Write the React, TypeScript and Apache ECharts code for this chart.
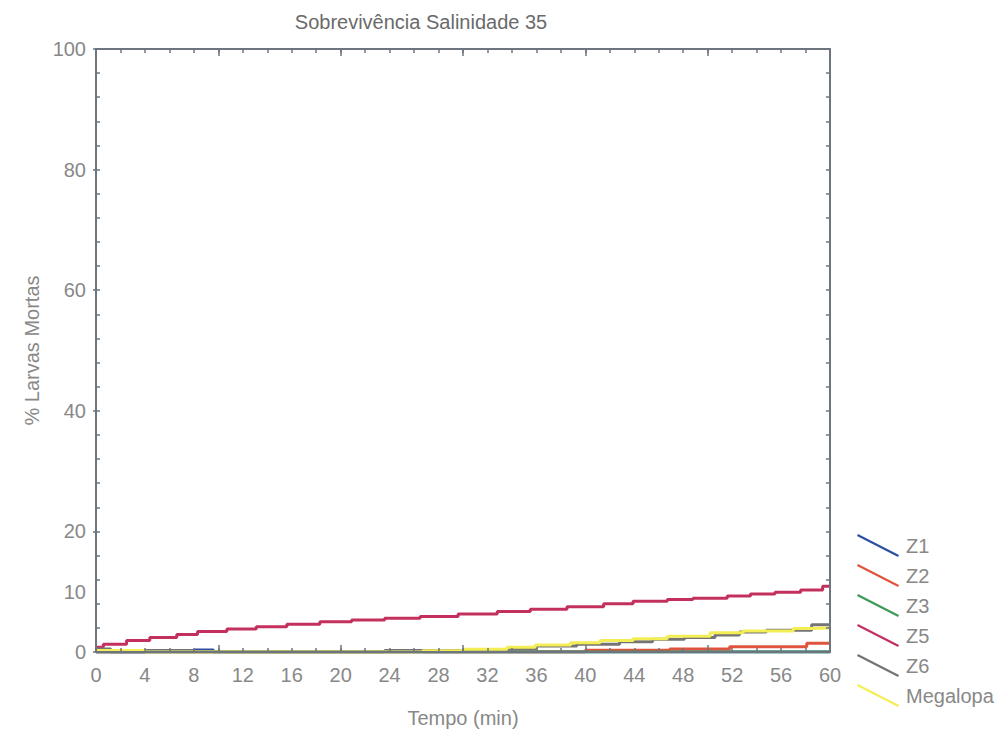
import React, { useEffect, useRef } from "react";
import * as echarts from "echarts";

const TITLE = "Sobrevivência Salinidade 35";
const X_NAME = "Tempo (min)";
const Y_NAME = "% Larvas Mortas";
const Y_LABELS = [0, 10, 20, 40, 60, 80, 100];
const SERIES_NAMES = ["Z1", "Z2", "Z3", "Z5", "Z6", "Megalopa"];
const COLORS = ["#2b4fa3", "#e0533c", "#3d9a55", "#c4305e", "#747474", "#f4ee55"];

// [time (min), % dead] step points
const Z1 = [[0, 0], [8.0, 0.35], [9.6, 0], [60, 0]];
const Z2 = [[0, 0], [40.0, 0.3], [46.9, 0.5], [51.8, 0.85], [58.1, 1.45], [60, 1.45]];
const Z3 = [[0, 0], [60, 0]];
const Z5 = [
  [0, 0.8], [0.6, 1.3], [2.5, 1.9], [4.4, 2.4], [6.6, 2.9], [8.3, 3.4], [10.7, 3.8],
  [13.1, 4.2], [15.6, 4.6], [18.3, 5.0], [20.9, 5.3], [23.6, 5.6], [26.5, 5.9],
  [29.6, 6.3], [32.8, 6.7], [35.5, 7.1], [38.5, 7.5], [41.5, 8.0], [43.9, 8.4],
  [46.7, 8.7], [48.8, 8.9], [51.6, 9.3], [53.5, 9.6], [55.5, 9.9], [57.6, 10.3],
  [59.4, 10.9], [60, 10.9],
];
const Z6 = [
  [0, 0.5], [1.2, 0], [4.0, 0.25], [8.0, 0], [23.6, 0.25], [29.7, 0.35], [33.7, 0.6],
  [36.0, 1.0], [39.3, 1.3], [42.8, 1.7], [45.5, 2.1], [48.1, 2.4], [50.6, 2.8],
  [52.6, 3.3], [54.8, 3.6], [58.5, 4.5], [60, 4.5],
];
const MEGALOPA = [
  [0, 0.25], [4.0, 0], [26.7, 0.2], [30.0, 0.45], [33.6, 0.8], [35.9, 1.15], [38.8, 1.55],
  [41.2, 1.9], [43.9, 2.2], [46.7, 2.6], [50.2, 3.2], [52.9, 3.5], [57.0, 3.9],
  [58.3, 4.0], [60, 4.0],
];
const SERIES_DATA = [Z1, Z2, Z3, Z5, Z6, MEGALOPA];

const AXIS_COLOR = "#6d767e";
const TEXT_COLOR = "#888888";
const FONT = "Liberation Sans, Arial, sans-serif";

export default function App() {
  const ref = useRef<HTMLDivElement>(null);
  useEffect(() => {
    if (!ref.current) return;
    const chart = echarts.init(ref.current, undefined, { renderer: "svg" });
    const baseX = {
      type: "value",
      min: 0,
      max: 60,
      splitLine: { show: false },
      axisLine: { show: false, onZero: false },
      axisLabel: { show: false },
      z: 5,
    };
    const baseY = {
      type: "value",
      min: 0,
      max: 100,
      splitLine: { show: false },
      axisLine: { show: false, onZero: false },
      axisLabel: { show: false },
      z: 5,
    };
    chart.setOption({
      animation: false,
      backgroundColor: "#ffffff",
      textStyle: { fontFamily: FONT },
      title: {
        text: TITLE,
        left: 416,
        textAlign: "center",
        top: 7,
        textStyle: { fontSize: 20, fontWeight: "normal", color: "#6a6a6a", fontFamily: FONT },
      },
      legend: {
        orient: "vertical",
        left: 852,
        top: 529,
        itemWidth: 42,
        itemHeight: 23,
        itemGap: 7,
        icon: "path://M1,0 L42,21 L41,23 L0,2 Z",
        data: SERIES_NAMES,
        textStyle: { fontSize: 20, color: TEXT_COLOR, fontFamily: FONT, padding: [0, 0, 0, 2] },
      },
      grid: { left: 96, top: 49, right: 178, bottom: 86, containLabel: false },
      xAxis: [
        {
          ...baseX,
          position: "bottom",
          interval: 2,
          axisLine: { show: true, onZero: false, lineStyle: { color: AXIS_COLOR, width: 2 } },
          axisTick: { show: true, inside: true, length: 4, lineStyle: { color: AXIS_COLOR, width: 1.5 } },
          axisLabel: {
            show: true,
            fontSize: 20,
            color: TEXT_COLOR,
            margin: 13,
            fontFamily: FONT,
            formatter: (v: number) => (v % 4 === 0 ? String(v) : ""),
          },
          name: X_NAME,
          nameLocation: "middle",
          nameGap: 56,
          nameTextStyle: { fontSize: 20, color: TEXT_COLOR, fontFamily: FONT },
        },
        {
          ...baseX,
          position: "bottom",
          interval: 10,
          axisTick: { show: true, inside: true, length: 7, lineStyle: { color: AXIS_COLOR, width: 1.5 } },
        },
        {
          ...baseX,
          position: "top",
          interval: 2,
          axisLine: { show: true, onZero: false, lineStyle: { color: AXIS_COLOR, width: 2 } },
          axisTick: { show: true, inside: true, length: 4, lineStyle: { color: AXIS_COLOR, width: 1.5 } },
        },
        {
          ...baseX,
          position: "top",
          interval: 10,
          axisTick: { show: true, inside: true, length: 7, lineStyle: { color: AXIS_COLOR, width: 1.5 } },
        },
      ],
      yAxis: [
        {
          ...baseY,
          position: "left",
          interval: 10,
          axisLine: { show: true, onZero: false, lineStyle: { color: AXIS_COLOR, width: 2 } },
          axisTick: { show: false },
          axisLabel: {
            show: true,
            fontSize: 20,
            color: TEXT_COLOR,
            margin: 10,
            fontFamily: FONT,
            formatter: (v: number) => (Y_LABELS.includes(v) ? String(v) : ""),
          },
          name: Y_NAME,
          nameLocation: "middle",
          nameGap: 54,
          nameTextStyle: { fontSize: 20, color: TEXT_COLOR, fontFamily: FONT },
        },
        {
          ...baseY,
          position: "left",
          interval: 4,
          axisTick: { show: true, inside: true, length: 4, lineStyle: { color: AXIS_COLOR, width: 1.5 } },
        },
        {
          ...baseY,
          position: "left",
          interval: 20,
          axisTick: { show: true, inside: false, length: 3, lineStyle: { color: AXIS_COLOR, width: 1.5 } },
        },
        {
          ...baseY,
          position: "right",
          interval: 4,
          axisLine: { show: true, onZero: false, lineStyle: { color: AXIS_COLOR, width: 2 } },
          axisTick: { show: true, inside: true, length: 4, lineStyle: { color: AXIS_COLOR, width: 1.5 } },
        },
      ],
      series: SERIES_NAMES.map((name, i) => ({
        name,
        type: "line",
        step: "end",
        xAxisIndex: 0,
        yAxisIndex: 0,
        data: SERIES_DATA[i],
        showSymbol: false,
        symbol: "none",
        color: COLORS[i],
        lineStyle: { color: COLORS[i], width: 3 },
        z: 2,
      })),
    });
    return () => chart.dispose();
  }, []);
  return (
    <div
      ref={ref}
      style={{ position: "fixed", left: 0, top: 0, width: 1008, height: 738, background: "#fff" }}
    />
  );
}
